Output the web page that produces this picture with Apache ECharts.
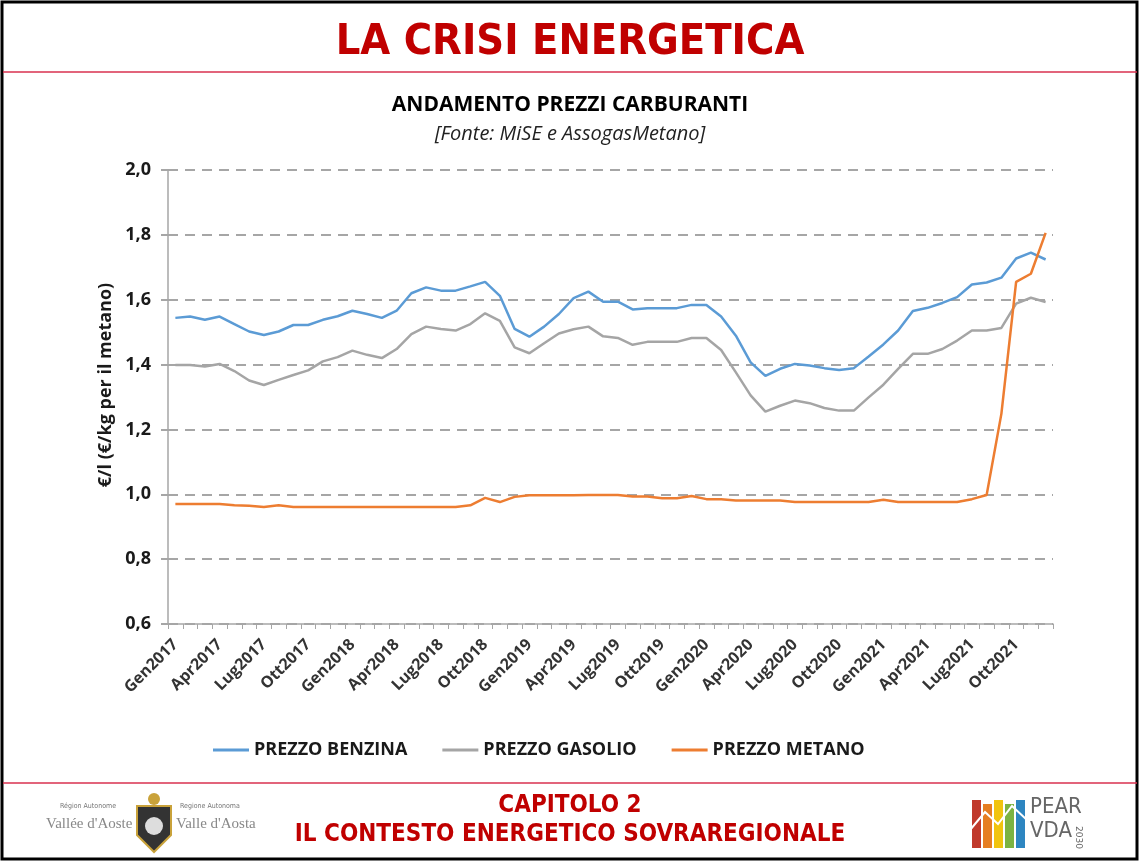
<!DOCTYPE html>
<html>
<head>
<meta charset="utf-8">
<title>La crisi energetica</title>
<script src="https://cdn.jsdelivr.net/npm/echarts@6/dist/echarts.min.js"></script>
<style>
  html, body { margin: 0; padding: 0; background: #fff; }
  #chart { width: 1140px; height: 863px; }
</style>
</head>
<body>
<div id="chart"></div>
<script>
// mesi e anni dell'asse x
var mesi = ['Gen', 'Feb', 'Mar', 'Apr', 'Mag', 'Giu', 'Lug', 'Ago', 'Set', 'Ott', 'Nov', 'Dic'];
var anni = [2017, 2018, 2019, 2020, 2021];
var categorie = [];
anni.forEach(function (a) {
    mesi.forEach(function (m) { categorie.push(m + a); });
});

// prezzi mensili (€/l, €/kg per il metano)
var benzina = [1.544, 1.548, 1.538, 1.548, 1.525, 1.502, 1.491, 1.502, 1.522, 1.522, 1.538, 1.549,
    1.566, 1.556, 1.544, 1.566, 1.620, 1.638, 1.628, 1.628, 1.641, 1.655, 1.612, 1.510,
    1.486, 1.517, 1.556, 1.605, 1.625, 1.594, 1.594, 1.570, 1.574, 1.574, 1.574, 1.584,
    1.584, 1.548, 1.489, 1.407, 1.365, 1.387, 1.402, 1.397, 1.389, 1.383, 1.389, 1.425,
    1.462, 1.505, 1.565, 1.575, 1.590, 1.608, 1.647, 1.653, 1.668, 1.727, 1.745, 1.724];
var gasolio = [1.399, 1.399, 1.394, 1.402, 1.380, 1.351, 1.337, 1.353, 1.368, 1.382, 1.410, 1.423,
    1.443, 1.430, 1.420, 1.448, 1.494, 1.517, 1.510, 1.505, 1.525, 1.558, 1.535, 1.453,
    1.435, 1.466, 1.496, 1.509, 1.517, 1.487, 1.482, 1.461, 1.470, 1.470, 1.470, 1.482,
    1.482, 1.445, 1.376, 1.305, 1.255, 1.273, 1.289, 1.281, 1.266, 1.258, 1.258, 1.299,
    1.338, 1.387, 1.433, 1.433, 1.448, 1.474, 1.505, 1.505, 1.513, 1.588, 1.606, 1.593];
var metano = [0.970, 0.970, 0.970, 0.970, 0.966, 0.965, 0.961, 0.966, 0.961, 0.961, 0.961, 0.961,
    0.961, 0.961, 0.961, 0.961, 0.961, 0.961, 0.961, 0.961, 0.966, 0.989, 0.976, 0.992,
    0.997, 0.997, 0.997, 0.997, 0.998, 0.998, 0.998, 0.993, 0.993, 0.988, 0.988, 0.995,
    0.985, 0.985, 0.981, 0.981, 0.981, 0.981, 0.976, 0.976, 0.976, 0.976, 0.976, 0.976,
    0.983, 0.976, 0.976, 0.976, 0.976, 0.976, 0.985, 0.998, 1.248, 1.655, 1.680, 1.806];

var ROSSO = '#c00000';
var chart = echarts.init(document.getElementById('chart'));

// loghi regione e PEAR, disegnati in modo semplice
var barrePear = ['#c0392b', '#e67e22', '#f1c40f', '#7cb342', '#2e86c1'];
var grafica = [
    { type: 'rect', shape: { x: 2, y: 2, width: 1135, height: 857 }, style: { fill: 'none', stroke: '#000', lineWidth: 3 } },
    { type: 'line', shape: { x1: 3, y1: 72, x2: 1137, y2: 72 }, style: { stroke: '#d9304f', lineWidth: 1.5 } },
    { type: 'line', shape: { x1: 3, y1: 783, x2: 1137, y2: 783 }, style: { stroke: '#d9304f', lineWidth: 1.5 } },
    { type: 'text', left: 60, top: 803, style: { text: 'Région Autonome', font: '7px "DejaVu Sans Condensed"', fill: '#777' } },
    { type: 'text', left: 46, top: 817, style: { text: "Vallée d'Aoste", font: '15px "Liberation Serif"', fill: '#888' } },
    { type: 'text', left: 180, top: 803, style: { text: 'Regione Autonoma', font: '7px "DejaVu Sans Condensed"', fill: '#777' } },
    { type: 'text', left: 176, top: 817, style: { text: "Valle d'Aosta", font: '15px "Liberation Serif"', fill: '#888' } },
    { type: 'polygon', shape: { points: [[137, 806], [171, 806], [171, 835], [154, 852], [137, 835]] }, style: { fill: '#333', stroke: '#c9a23a', lineWidth: 2 } },
    { type: 'circle', shape: { cx: 154, cy: 799, r: 6 }, style: { fill: '#c9a23a' } },
    { type: 'circle', shape: { cx: 154, cy: 826, r: 9 }, style: { fill: '#ddd' } },
    { type: 'text', left: 1030, top: 796, style: { text: 'PEAR', font: '22px "DejaVu Sans Condensed"', fill: '#666' } },
    { type: 'text', left: 1030, top: 820, style: { text: 'VDA', font: '22px "DejaVu Sans Condensed"', fill: '#666' } },
    { type: 'text', left: 1074, top: 826, rotation: -Math.PI / 2, style: { text: '2030', font: '9px "DejaVu Sans"', fill: '#666' } }
];
barrePear.forEach(function (c, i) {
    grafica.push({ type: 'rect', shape: { x: 972 + i * 11, y: 800 + (i % 2) * 4, width: 9, height: 48 - (i % 2) * 4 }, style: { fill: c } });
});
grafica.push({ type: 'polyline', shape: { points: [[970, 830], [985, 812], [998, 824], [1012, 806], [1027, 820]] }, style: { stroke: '#fff', lineWidth: 2, fill: 'none' } });

var option = {
    backgroundColor: '#fff',
    animation: false,
    title: [
        { text: 'LA CRISI ENERGETICA', left: 'center', top: 16,
          textStyle: { color: ROSSO, fontFamily: 'DejaVu Sans Condensed', fontWeight: 'bold', fontSize: 43 } },
        { text: 'ANDAMENTO PREZZI CARBURANTI', left: 'center', top: 90,
          textStyle: { color: '#000', fontFamily: 'Open Sans', fontWeight: 'bold', fontSize: 21 } },
        { text: '[Fonte: MiSE e AssogasMetano]', left: 'center', top: 119,
          textStyle: { color: '#222', fontFamily: 'Open Sans', fontStyle: 'italic', fontWeight: 'normal', fontSize: 20 } },
        { text: 'CAPITOLO 2', left: 'center', top: 789,
          textStyle: { color: ROSSO, fontFamily: 'DejaVu Sans Condensed', fontWeight: 'bold', fontSize: 24 } },
        { text: 'IL CONTESTO ENERGETICO SOVRAREGIONALE', left: 'center', top: 818,
          textStyle: { color: ROSSO, fontFamily: 'DejaVu Sans Condensed', fontWeight: 'bold', fontSize: 24 } }
    ],
    graphic: grafica,
    legend: {
        left: 208, top: 736,
        itemWidth: 36, itemHeight: 3, itemGap: 35,
        icon: 'rect',
        textStyle: { fontFamily: 'Open Sans', fontWeight: 'bold', fontSize: 18, color: '#1a1a1a' },
        data: ['PREZZO BENZINA', 'PREZZO GASOLIO', 'PREZZO METANO']
    },
    grid: { left: 168, right: 87, top: 170, bottom: 239, containLabel: false },
    xAxis: {
        type: 'category',
        data: categorie,
        boundaryGap: true,
        axisLine: { lineStyle: { color: '#a6a6a6', width: 1.5 } },
        axisTick: { show: true, interval: 0, length: 5, lineStyle: { color: '#a6a6a6' } },
        axisLabel: { interval: 2, rotate: 45, margin: 18, color: '#333',
                     fontFamily: 'Open Sans', fontWeight: 'bold', fontSize: 16 },
        splitLine: { show: false }
    },
    yAxis: {
        type: 'value',
        min: 0.6, max: 2.0, interval: 0.2,
        name: '€/l (€/kg per il metano)',
        nameLocation: 'middle', nameGap: 51, nameRotate: 90,
        nameTextStyle: { fontFamily: 'Open Sans', fontWeight: 'bold', fontSize: 18, color: '#1a1a1a',
                         padding: [0, 0, 0, 24] },
        axisLine: { show: true, lineStyle: { color: '#a6a6a6', width: 1.5 } },
        axisTick: { show: true, length: 7, lineStyle: { color: '#a6a6a6', width: 2 } },
        axisLabel: { margin: 17, color: '#1a1a1a', fontFamily: 'Open Sans', fontWeight: 'bold', fontSize: 18,
                     formatter: function (v) { return v.toFixed(1).replace('.', ','); } },
        splitLine: { show: true, lineStyle: { color: '#a6a6a6', width: 2, type: [10, 7] } }
    },
    series: [
        { name: 'PREZZO BENZINA', type: 'line', data: benzina, symbol: 'none',
          itemStyle: { color: '#5b9bd5' }, lineStyle: { color: '#5b9bd5', width: 2.5 } },
        { name: 'PREZZO GASOLIO', type: 'line', data: gasolio, symbol: 'none',
          itemStyle: { color: '#a5a5a5' }, lineStyle: { color: '#a5a5a5', width: 2.5 } },
        { name: 'PREZZO METANO', type: 'line', data: metano, symbol: 'none',
          itemStyle: { color: '#ed7d31' }, lineStyle: { color: '#ed7d31', width: 2.5 } }
    ]
};
chart.setOption(option);
</script>
</body>
</html>
